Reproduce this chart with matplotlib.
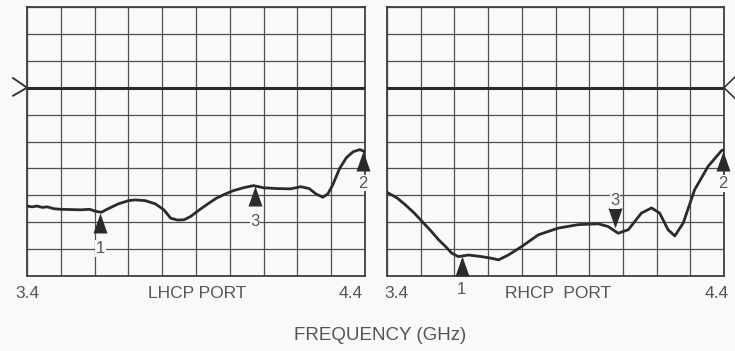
# Respuesta de las dos puertas (LHCP / RHCP) entre 3.4 y 4.4 GHz
import numpy as np
import matplotlib.pyplot as plt
from matplotlib.path import Path

# Datos (frecuencia en GHz, nivel en divisiones desde abajo)
freqLHCP = [3.400, 3.415, 3.430, 3.445, 3.460, 3.480, 3.500, 3.530, 3.560, 3.585,
            3.605, 3.620, 3.640, 3.670, 3.700, 3.720, 3.750, 3.780, 3.805, 3.825,
            3.845, 3.865, 3.885, 3.910, 3.935, 3.960, 3.985, 4.010, 4.040, 4.070,
            4.100, 4.140, 4.180, 4.210, 4.235, 4.255, 4.275, 4.290, 4.305, 4.325,
            4.345, 4.365, 4.385, 4.400]
nivelLHCP = [2.60, 2.57, 2.60, 2.55, 2.57, 2.50, 2.48, 2.47, 2.46, 2.48,
             2.40, 2.37, 2.50, 2.68, 2.80, 2.83, 2.80, 2.68, 2.46, 2.15,
             2.08, 2.09, 2.22, 2.46, 2.68, 2.89, 3.04, 3.17, 3.28, 3.36,
             3.28, 3.25, 3.24, 3.32, 3.25, 3.05, 2.93, 3.05, 3.40, 4.00,
             4.40, 4.62, 4.70, 4.62]

freqRHCP = [3.400, 3.430, 3.454, 3.480, 3.504, 3.530, 3.553, 3.575, 3.592, 3.612,
            3.642, 3.681, 3.710, 3.731, 3.760, 3.800, 3.849, 3.908, 3.968, 4.027,
            4.056, 4.086, 4.116, 4.155, 4.185, 4.209, 4.234, 4.254, 4.279, 4.313,
            4.353, 4.392, 4.400]
nivelRHCP = [3.11, 2.90, 2.65, 2.35, 2.03, 1.68, 1.35, 1.08, 0.85, 0.72,
             0.78, 0.72, 0.66, 0.60, 0.78, 1.10, 1.53, 1.78, 1.91, 1.94,
             1.84, 1.59, 1.72, 2.34, 2.53, 2.34, 1.72, 1.49, 1.97, 3.21,
             4.08, 4.65, 4.70]

# Marcadores: frecuencia, nivel, etiqueta
marcasLHCP_f = [3.617, 4.075, 4.395]
marcasLHCP_y = [2.36, 3.34, 4.64]
marcasRHCP_f = [3.622, 4.076, 4.397]
marcasRHCP_y = [0.74, 1.80, 4.66]
etiquetas = ['1', '3', '2']

nivelReferencia = 7
fondo = '#f9f9f8'
tinta = '#2b2b2b'
texto = '#555555'
tamMarca = 28.8

# Triangulos con la punta en el punto del dato
triArriba = Path([(0, 0), (-7, -20), (7, -20), (0, 0)],
                 [Path.MOVETO, Path.LINETO, Path.LINETO, Path.CLOSEPOLY])
triAbajo = Path([(0, 0), (-7, 20), (7, 20), (0, 0)],
                [Path.MOVETO, Path.LINETO, Path.LINETO, Path.CLOSEPOLY])

plt.rcParams['font.family'] = ['Liberation Sans', 'DejaVu Sans']

fig = plt.figure(figsize=(7.35, 3.51), dpi=100, facecolor=fondo)
W, H = 735.0, 351.0
axL = fig.add_axes([27 / W, 75 / H, 338 / W, 269 / H])
axR = fig.add_axes([387 / W, 75 / H, 337 / W, 269 / H])


def preparar(ax):
    ax.set_facecolor(fondo)
    ax.set_xlim(3.4, 4.4)
    ax.set_ylim(0, 10)
    ax.set_xticks(np.linspace(3.4, 4.4, 11))
    ax.set_yticks(range(11))
    ax.tick_params(length=0, labelbottom=False, labelleft=False)
    ax.grid(True, color='#505050', lw=0.9)
    for s in ax.spines.values():
        s.set_color('#404040')
        s.set_linewidth(1.3)
    ax.axhline(nivelReferencia, color=tinta, lw=2.2, zorder=3)


def marcar(ax, f, y, marcas, dy):
    for fi, yi, m, dyi, t in zip(f, y, marcas, dy, etiquetas):
        ax.plot(fi, yi, marker=m, markersize=tamMarca, color=tinta, ls='none',
                markeredgewidth=0, clip_on=False, zorder=5)
        ax.annotate(t, (fi, yi), xytext=(0, dyi), textcoords='offset pixels',
                    ha='center', va='center', fontsize=12, color=texto,
                    bbox=dict(facecolor=fondo, edgecolor='none', pad=0.5),
                    annotation_clip=False, zorder=6)


preparar(axL)
preparar(axR)

axL.plot(freqLHCP, nivelLHCP, color=tinta, lw=2.0, zorder=4)
axR.plot(freqRHCP, nivelRHCP, color=tinta, lw=2.0, zorder=4)

marcar(axL, marcasLHCP_f, marcasLHCP_y, [triArriba] * 3, [-36, -35, -32])
marcar(axR, marcasRHCP_f, marcasRHCP_y, [triArriba, triAbajo, triArriba],
       [-33, 27, -33])

# Flechas de referencia a los lados
axL.plot([3.4 - 14 / 338, 3.4, 3.4 - 14 / 338],
         [nivelReferencia + 0.36, nivelReferencia, nivelReferencia - 0.30],
         color=tinta, lw=1.3, clip_on=False)
axR.plot([4.4 + 11 / 337, 4.4, 4.4 + 11 / 337],
         [nivelReferencia + 0.40, nivelReferencia, nivelReferencia - 0.40],
         color=tinta, lw=1.1, clip_on=False)

# Textos del eje
ytxt = 1 - 294 / H
for x, t in [(27, '3.4'), (197, 'LHCP PORT'), (351, '4.4'),
             (396, '3.4'), (558, 'RHCP  PORT'), (717, '4.4')]:
    fig.text(x / W, ytxt, t, ha='center', va='center', fontsize=12.5, color=texto)
fig.text(380 / W, 1 - 335 / H, 'FREQUENCY (GHz)', ha='center', va='center',
         fontsize=13.5, color=texto)

plt.savefig('out.png', dpi=100, facecolor=fondo)
